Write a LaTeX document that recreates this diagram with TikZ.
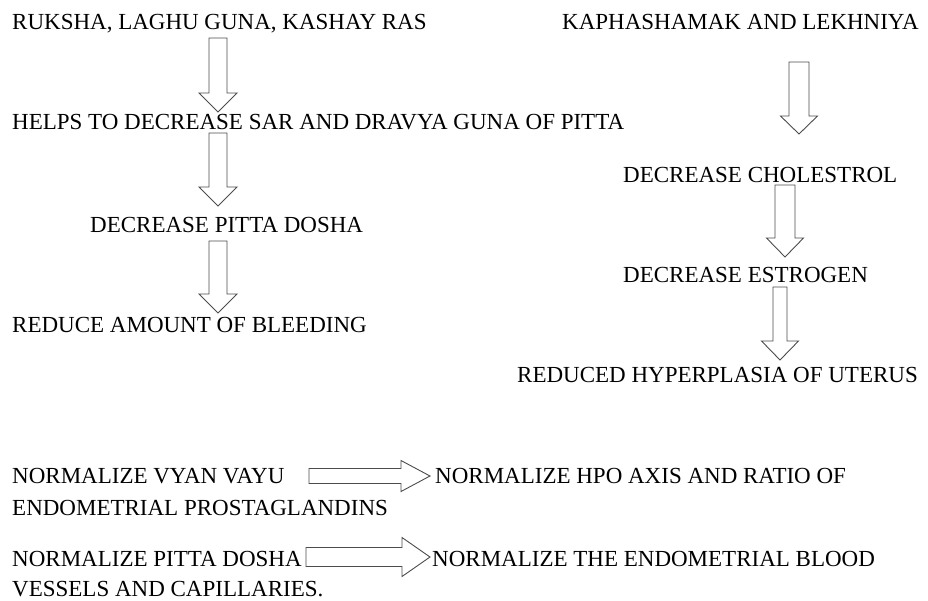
\documentclass[tikz,border=0pt]{standalone}
\usepackage{fontspec}
\setmainfont{Liberation Serif}

\tikzset{
  txt/.style={anchor=west, inner sep=0pt, text height=15pt, text depth=0pt,
    font=\fontsize{23}{27}\selectfont},
  blk/.style={draw=black!70, line width=0.9pt, fill=white, line join=miter}
}

% hollow block arrows (y runs downwards)
% down: x, y top, y tip, half shaft, half head, head length
\newcommand{\blkdown}[6]{%
  \draw[blk] (#1-#4,#2) -- (#1+#4,#2) -- (#1+#4,#3-#6) -- (#1+#5,#3-#6)
    -- (#1,#3) -- (#1-#5,#3-#6) -- (#1-#4,#3-#6) -- cycle;}
% right: x left, x tip, y, half shaft, half head, head length
\newcommand{\blkright}[6]{%
  \draw[blk] (#1,#3-#4) -- (#2-#6,#3-#4) -- (#2-#6,#3-#5) -- (#2,#3)
    -- (#2-#6,#3+#5) -- (#2-#6,#3+#4) -- (#1,#3+#4) -- cycle;}

\begin{document}
\begin{tikzpicture}[x=1pt,y=-1pt]
    \useasboundingbox (0,0) rectangle (928,600);

    % left chain
    \node[txt] (ruksha) at (12,22) {RUKSHA, LAGHU GUNA, KASHAY RAS};
    \node[txt] (helps) at (12,122) {HELPS TO DECREASE SAR AND DRAVYA GUNA OF PITTA};
    \node[txt] (dpitta) at (90,225) {DECREASE PITTA DOSHA};
    \node[txt] (bleed) at (12,325) {REDUCE AMOUNT OF BLEEDING};

    \blkdown{218}{38}{112}{9}{19}{19}
    \blkdown{218}{133}{206}{9}{19}{19}
    \blkdown{218}{241}{313}{9}{19}{19}

    % right chain
    \node[txt] (kapha) at (562,22) {KAPHASHAMAK AND LEKHNIYA};
    \node[txt] (chol) at (623,175) {DECREASE CHOLESTROL};
    \node[txt] (estro) at (623,275) {DECREASE ESTROGEN};
    \node[txt] (hyper) at (517,375) {REDUCED HYPERPLASIA OF UTERUS};

    \blkdown{799}{62}{134}{10}{18.5}{18}
    \blkdown{785}{185}{257}{10}{18.5}{19}
    \blkdown{780}{287}{360}{7}{18.5}{19}

    % bottom
    \node[txt] (vyan) at (12,476) {NORMALIZE VYAN VAYU};
    \node[txt] (hpo) at (435,476) {NORMALIZE HPO AXIS AND RATIO OF};
    \node[txt] (prosta) at (12,508) {ENDOMETRIAL PROSTAGLANDINS};
    \node[txt] (npitta) at (12,559) {NORMALIZE PITTA DOSHA};
    \node[txt] (vessel) at (432,559) {NORMALIZE THE ENDOMETRIAL BLOOD};
    \node[txt] (capil) at (12,589) {VESSELS AND CAPILLARIES.};

    \blkright{309}{430}{476}{7.5}{15.5}{29}
    \blkright{306}{430}{557}{9.5}{19.5}{28}

\end{tikzpicture}
\end{document}
